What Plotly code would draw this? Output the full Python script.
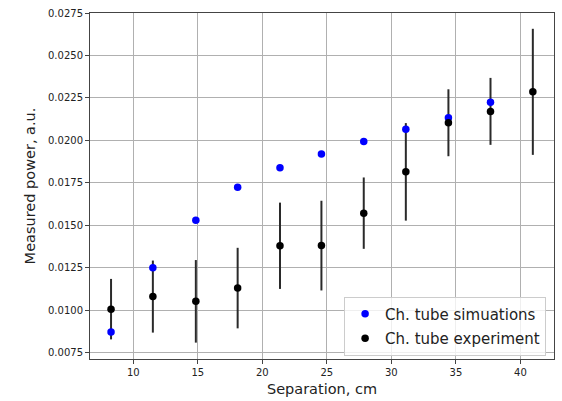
import plotly.graph_objects as go

# Detector separation (cm)
separation = [8.28, 11.52, 14.85, 18.09, 21.37, 24.58, 27.86, 31.12, 34.42, 37.68, 40.96]

# Charge-tube simulation results (no simulation at the last separation)
sim_sep = separation[:10]
sim_power = [0.00872, 0.0125, 0.0153, 0.01724, 0.01839, 0.01920, 0.01994, 0.02066, 0.02134, 0.02225]

# Charge-tube measurements with their uncertainties
exp_power = [0.01007, 0.01081, 0.01053, 0.01131, 0.01380, 0.01381, 0.01572, 0.01815, 0.02104, 0.02171, 0.02286]
exp_err = [0.00178, 0.00212, 0.00243, 0.00237, 0.00254, 0.00264, 0.00210, 0.00287, 0.00197, 0.00197, 0.00371]

x_ticks = [10, 15, 20, 25, 30, 35, 40]
y_ticks = [0.0075, 0.0100, 0.0125, 0.0150, 0.0175, 0.0200, 0.0225, 0.0250, 0.0275]

FONT = "DejaVu Sans"

fig = go.Figure()

# error bars sit beneath the simulation dots
fig.add_trace(go.Scatter(
    x=separation, y=exp_power, mode="markers",
    marker=dict(size=7, color="rgba(0,0,0,0)"),
    error_y=dict(type="data", array=exp_err, visible=True,
                 color="#2a2a2a", thickness=2, width=0),
    showlegend=False, hoverinfo="skip", legendgroup="err",
))

fig.add_trace(go.Scatter(
    x=sim_sep, y=sim_power, mode="markers",
    name="Ch. tube simuations", legendgroup="sim",
    marker=dict(size=7.5, color="#0000ff"),
))

fig.add_trace(go.Scatter(
    x=separation, y=exp_power, mode="markers",
    name="Ch. tube experiment", legendgroup="exp",
    marker=dict(size=7.5, color="#000000"),
))

axis_common = dict(
    showgrid=True, gridcolor="#b0b0b0", gridwidth=1,
    showline=True, linecolor="#444444", linewidth=1, mirror=True,
    ticks="outside", ticklen=4, tickcolor="#444444", tickwidth=1,
    tickfont=dict(family=FONT, size=10, color="#222222"),
    zeroline=False,
)

fig.update_xaxes(
    range=[6.65, 42.6], tickvals=x_ticks,
    title=dict(text="Separation, cm", font=dict(family=FONT, size=14.5, color="#222222"), standoff=6),
    **axis_common,
)
fig.update_yaxes(
    range=[0.007136, 0.0275], tickvals=y_ticks, tickformat=".4f",
    title=dict(text="Measured power, a.u.", font=dict(family=FONT, size=14.5, color="#222222"), standoff=8),
    **axis_common,
)

fig.update_layout(
    width=562, height=401,
    margin=dict(l=90, r=7, t=12, b=37),
    paper_bgcolor="white", plot_bgcolor="white",
    font=dict(family=FONT, color="#222222"),
    legend=dict(
        x=0.983, y=0.01, xanchor="right", yanchor="bottom",
        traceorder="grouped", tracegroupgap=2,
        bgcolor="rgba(255,255,255,0.8)", bordercolor="#cccccc", borderwidth=1,
        font=dict(family=FONT, size=15, color="#222222"),
    ),
)

fig.write_html("out.html")
